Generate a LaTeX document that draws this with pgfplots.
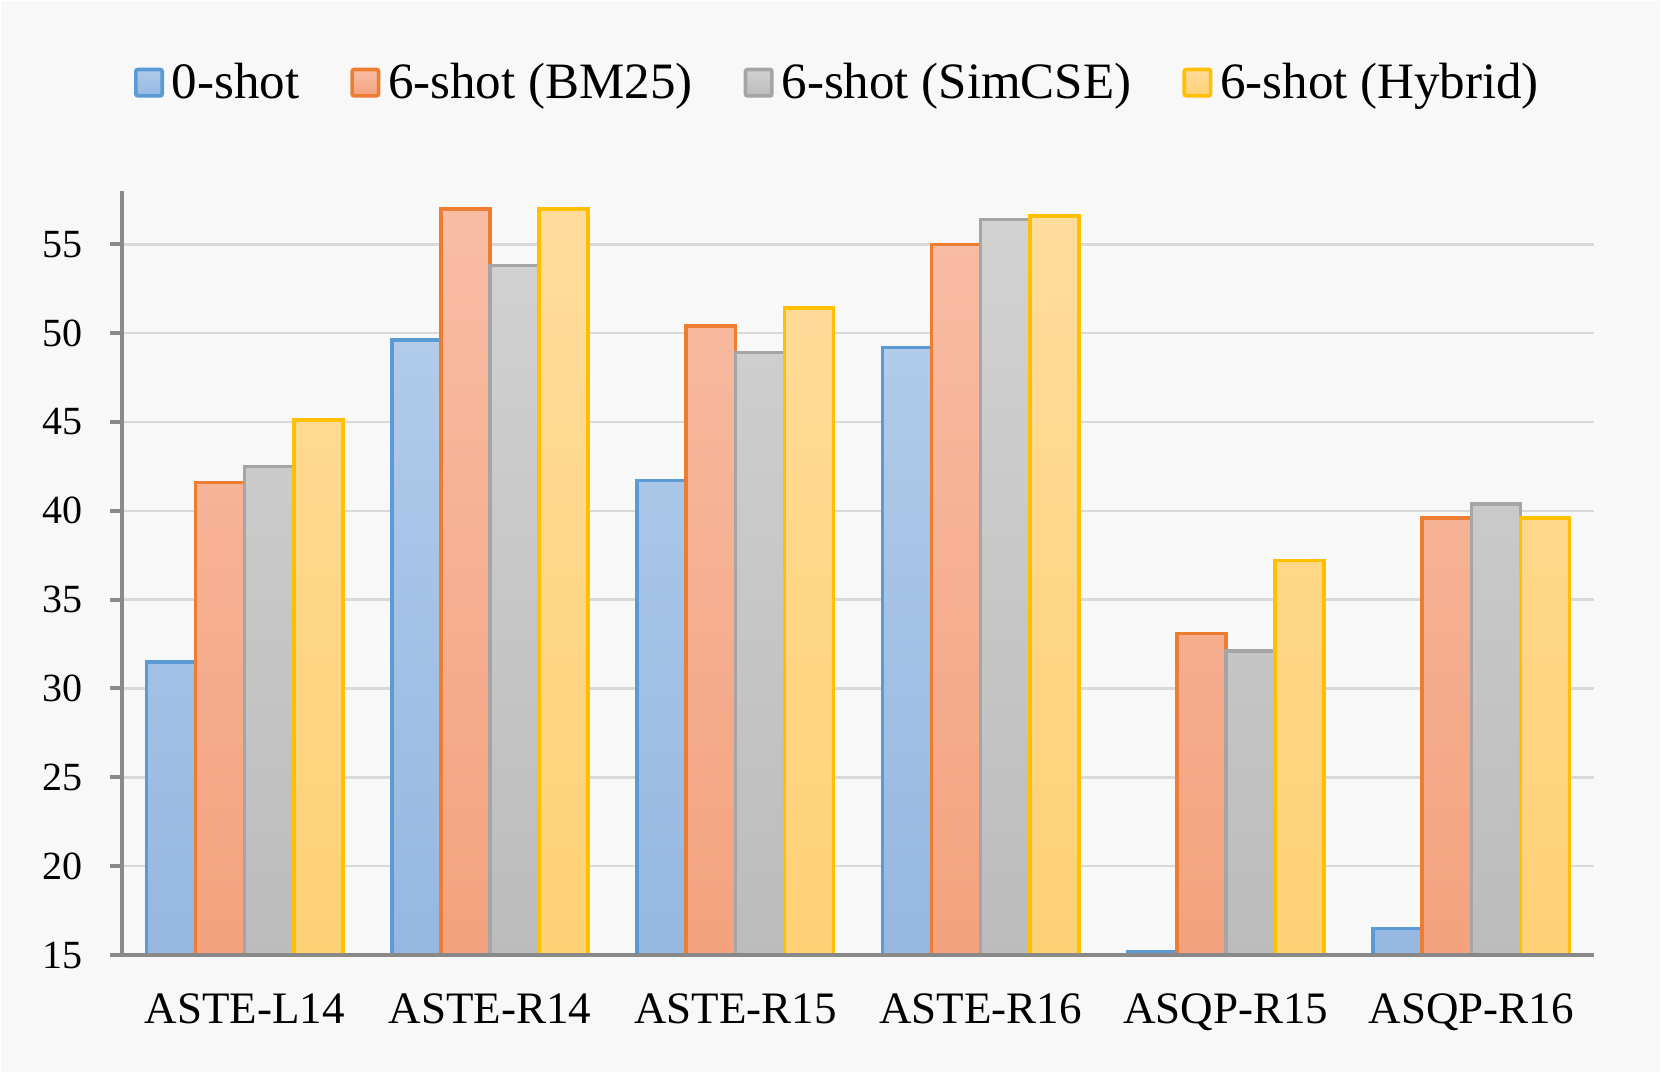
\documentclass[border=0pt]{standalone}
\usepackage{fontspec}
\setmainfont{Liberation Serif}
\usepackage{graphicx}
\usepackage{pgfplots}
\pgfplotsset{compat=1.18}

\definecolor{bg}{HTML}{F8F8F8}
\definecolor{gridc}{HTML}{D9D9D9}
\definecolor{axisc}{HTML}{898989}
\definecolor{blueB}{HTML}{5B9BD5}
\definecolor{blueT}{HTML}{B1CBE9}
\definecolor{blueD}{HTML}{95B7E2}
\definecolor{orB}{HTML}{ED7D31}
\definecolor{orT}{HTML}{F8BDA4}
\definecolor{orD}{HTML}{F4A27E}
\definecolor{grB}{HTML}{A5A5A5}
\definecolor{grT}{HTML}{D2D2D2}
\definecolor{grD}{HTML}{BCBCBC}
\definecolor{yeB}{HTML}{FFC000}
\definecolor{yeT}{HTML}{FFDC9C}
\definecolor{yeD}{HTML}{FFD175}

\begin{document}
\begin{tikzpicture}
\fill[white] (0,0) rectangle (830.5pt,536.5pt);
\fill[bg] (0.5pt,0.5pt) rectangle (830pt,536pt);
\begin{axis}[
    at={(61pt,59pt)}, anchor=south west,
    scale only axis,
    width=736pt, height=382pt,
    ybar=0pt, bar width=0.2,
    xmin=-0.5, xmax=5.5,
    ymin=15, ymax=58,
    xtick={0,1,2,3,4,5},
    xticklabels={ASTE-L14, ASTE-R14, ASTE-R15, ASTE-R16, ASQP-R15, ASQP-R16},
    ytick={15,20,...,55},
    axis lines*=left,
    axis line style={draw=axisc, line width=2pt},
    ymajorgrids=true,
    grid style={draw=gridc, line width=1.3pt},
    major x tick style={draw=none},
    major y tick style={draw=axisc, line width=2pt},
    tick align=outside, major tick length=6pt,
    /pgf/number format/assume math mode=true,
    yticklabel style={font=\fontsize{20}{24}\selectfont, xshift=-10pt},
    xticklabel style={font=\fontsize{22.5}{27}\selectfont},
    xticklabel shift=10pt,
    legend style={at={(0.0082,1.1418)}, anchor=west, draw=none, fill=none,
        inner sep=0pt, outer sep=0pt,
        legend columns=-1,
        font=\fontsize{25.5}{30}\selectfont,
        /tikz/every even column/.append style={column sep=23.5pt}},
    legend cell align=left,
    legend image code/.code={\draw[#1, line width=1.8pt, rounded corners=1pt]
        (0.9pt,-6.6pt) rectangle (14.1pt,6.6pt);
        \path (16pt,0pt);},
]
\addplot[draw=blueB, line width=1.8pt, top color=blueT, bottom color=blueD]
    coordinates {(0,31.5) (1,49.6) (2,41.7) (3,49.2) (4,15.2) (5,16.5)};
\addplot[draw=orB, line width=1.8pt, top color=orT, bottom color=orD]
    coordinates {(0,41.6) (1,57.0) (2,50.4) (3,55.0) (4,33.1) (5,39.6)};
\addplot[draw=grB, line width=1.8pt, top color=grT, bottom color=grD]
    coordinates {(0,42.5) (1,53.8) (2,48.9) (3,56.4) (4,32.1) (5,40.4)};
\addplot[draw=yeB, line width=1.8pt, top color=yeT, bottom color=yeD]
    coordinates {(0,45.1) (1,57.0) (2,51.4) (3,56.6) (4,37.2) (5,39.6)};
\legend{0-shot, 6-shot (BM25), 6-shot (SimCSE), 6-shot (Hybrid)}
\draw[axisc, line width=2pt] ([xshift=-6pt]rel axis cs:0,0) -- (rel axis cs:1,0);
\end{axis}
\end{tikzpicture}
\end{document}
